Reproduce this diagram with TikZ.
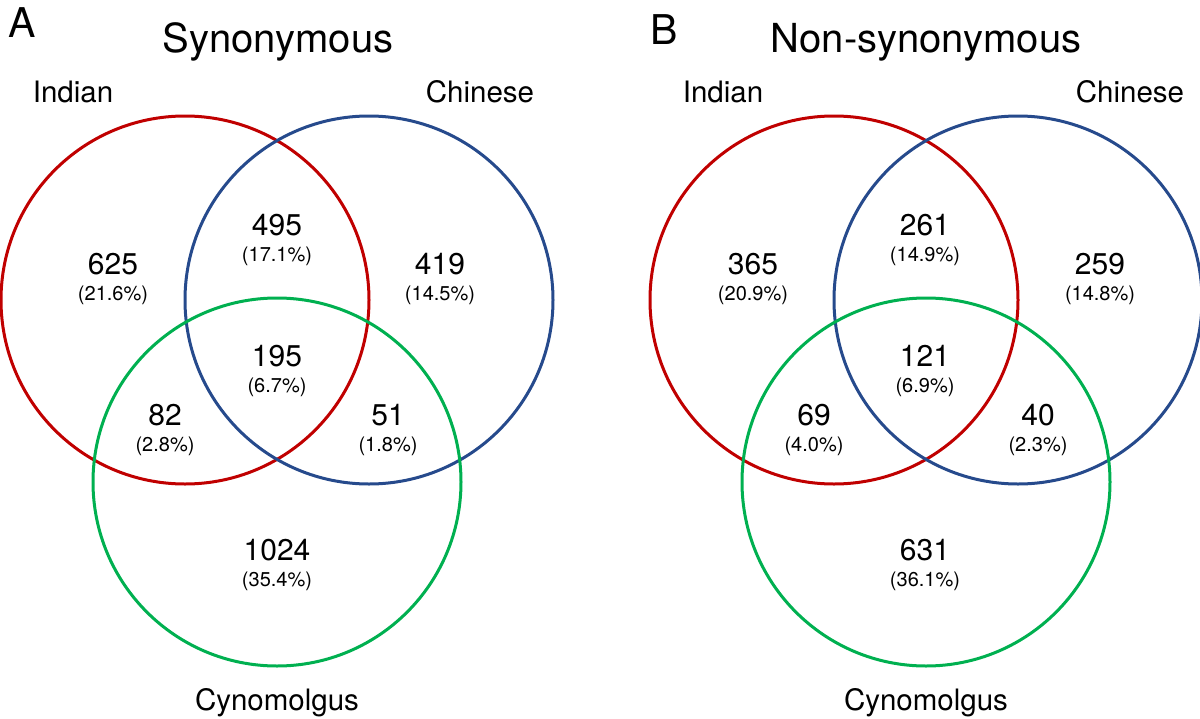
\documentclass[tikz,border=0pt]{standalone}
\usepackage{fontspec}
\setmainfont{TeX Gyre Heros}
\usetikzlibrary{positioning}
\definecolor{myred}{RGB}{192,0,0}
\definecolor{myblue}{RGB}{38,74,140}
\definecolor{mygreen}{RGB}{0,176,80}

\tikzset{
  setring/.style={line width=3pt},
  cnt/.style={inner sep=0pt, font=\fontsize{30}{36}\selectfont},
  pct/.style={inner sep=0pt, font=\fontsize{20}{24}\selectfont},
  setname/.style={anchor=base, inner sep=0pt, font=\fontsize{29.5}{35}\selectfont},
  paneltitle/.style={anchor=base, inner sep=0pt, font=\fontsize{40}{48}\selectfont},
  panelletter/.style={anchor=base west, inner sep=0pt, font=\fontsize{41}{48}\selectfont},
}

\begin{document}
\begin{tikzpicture}[x=1pt,y=-1pt]
  \useasboundingbox (0,0) rectangle (1200,718);

  % panel A: synonymous
  \node[panelletter] (lettA) at (8,37) {A};
  \node[paneltitle] (titleA) at (278,52) {Synonymous};
  \node[setname] (indA) at (73,102) {Indian};
  \node[setname] (chiA) at (480,102) {Chinese};
  \node[setname] (cynA) at (277,710) {Cynomolgus};

  \draw[setring, myred] (185,300) circle[radius=184];
  \draw[setring, myblue] (369,300) circle[radius=184];
  \draw[setring, mygreen] (277,482) circle[radius=184];

  \node[cnt] (a1) at (113,264) {625};
  \node[pct, below=10.5pt of a1] {(21.6\%)};
  \node[cnt] (a2) at (277,225) {495};
  \node[pct, below=10.5pt of a2] {(17.1\%)};
  \node[cnt] (a3) at (440,264) {419};
  \node[pct, below=10.5pt of a3] {(14.5\%)};
  \node[cnt] (a4) at (277,356) {195};
  \node[pct, below=10.5pt of a4] {(6.7\%)};
  \node[cnt] (a5) at (165,415) {82};
  \node[pct, below=10.5pt of a5] {(2.8\%)};
  \node[cnt] (a6) at (388,415) {51};
  \node[pct, below=10.5pt of a6] {(1.8\%)};
  \node[cnt] (a7) at (277,550) {1024};
  \node[pct, below=10.5pt of a7] {(35.4\%)};

  % panel B: non-synonymous
  \node[panelletter] (lettB) at (650,44) {B};
  \node[paneltitle] (titleB) at (926,52) {Non-synonymous};
  \node[setname] (indB) at (723,102) {Indian};
  \node[setname] (chiB) at (1130,102) {Chinese};
  \node[setname] (cynB) at (926,710) {Cynomolgus};

  \draw[setring, myred] (834,300) circle[radius=184];
  \draw[setring, myblue] (1018,300) circle[radius=184];
  \draw[setring, mygreen] (926,482) circle[radius=184];

  \node[cnt] (b1) at (753,264) {365};
  \node[pct, below=10.5pt of b1] {(20.9\%)};
  \node[cnt] (b2) at (925,225) {261};
  \node[pct, below=10.5pt of b2] {(14.9\%)};
  \node[cnt] (b3) at (1100,264) {259};
  \node[pct, below=10.5pt of b3] {(14.8\%)};
  \node[cnt] (b4) at (925,356) {121};
  \node[pct, below=10.5pt of b4] {(6.9\%)};
  \node[cnt] (b5) at (814,415) {69};
  \node[pct, below=10.5pt of b5] {(4.0\%)};
  \node[cnt] (b6) at (1038,415) {40};
  \node[pct, below=10.5pt of b6] {(2.3\%)};
  \node[cnt] (b7) at (925,550) {631};
  \node[pct, below=10.5pt of b7] {(36.1\%)};
\end{tikzpicture}
\end{document}
